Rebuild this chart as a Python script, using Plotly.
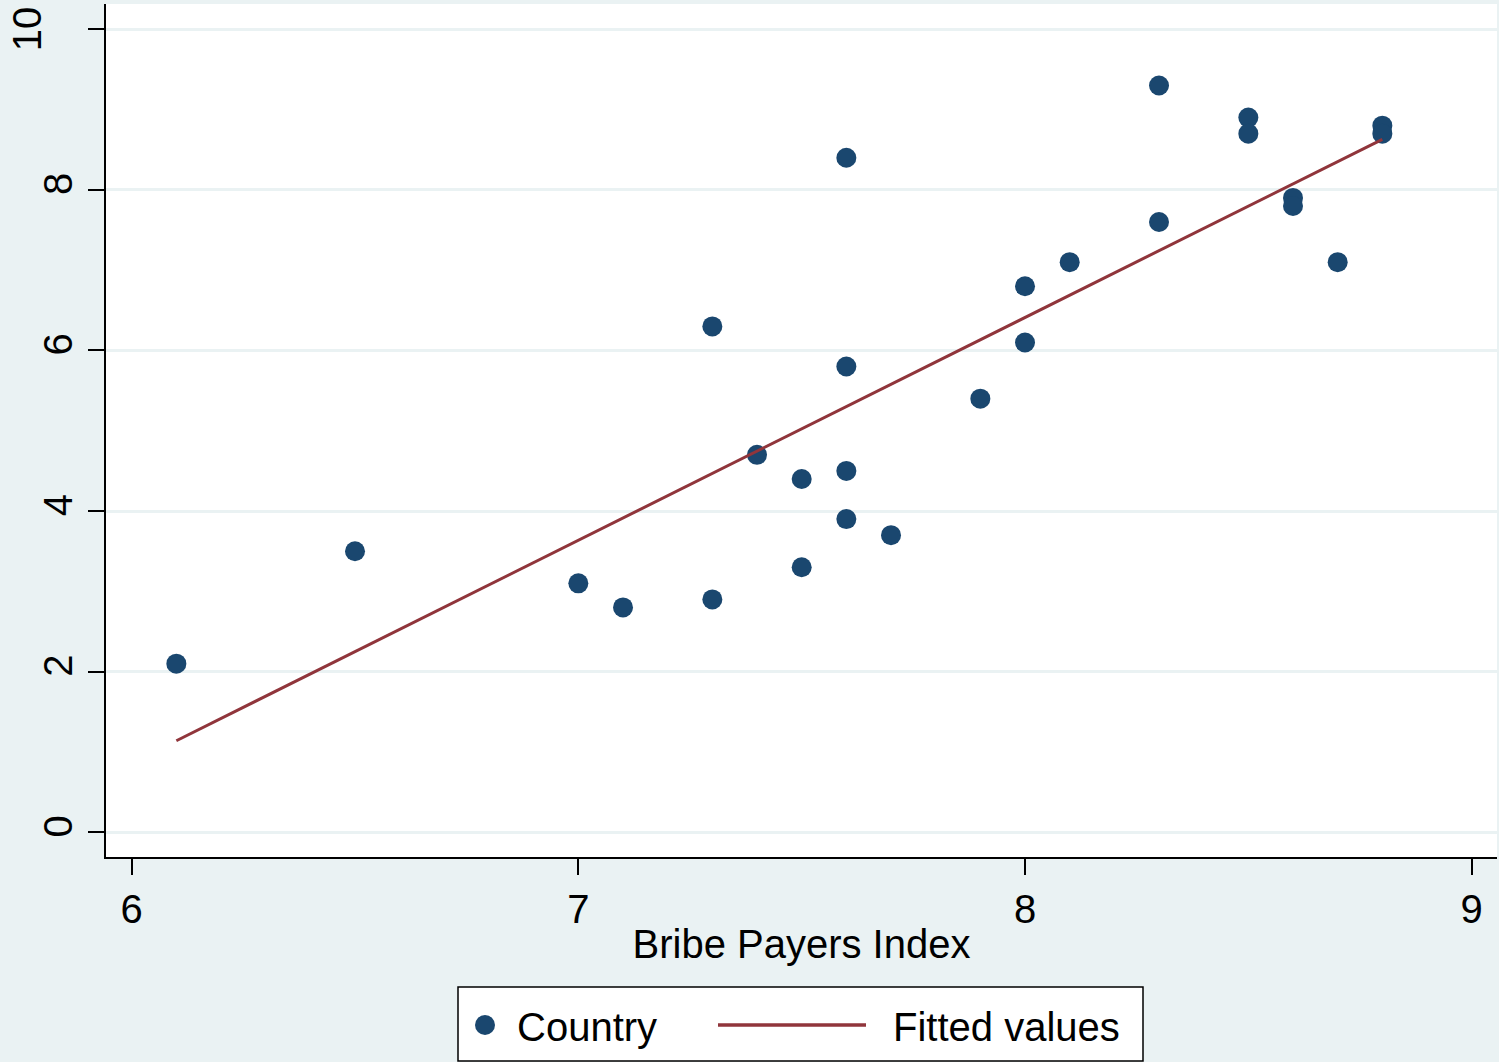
import plotly.graph_objects as go

bpi = [6.1, 6.5, 7.0, 7.1, 7.3, 7.3, 7.4, 7.5, 7.5, 7.6, 7.6, 7.6, 7.6, 7.7,
       7.9, 8.0, 8.0, 8.1, 8.3, 8.3, 8.5, 8.5, 8.6, 8.6, 8.7, 8.8, 8.8]
cpi = [2.1, 3.5, 3.1, 2.8, 2.9, 6.3, 4.7, 4.4, 3.3, 8.4, 5.8, 4.5, 3.9, 3.7,
       5.4, 6.8, 6.1, 7.1, 9.3, 7.6, 8.9, 8.7, 7.9, 7.8, 7.1, 8.8, 8.7]
fit_x = [6.1, 8.8]
fit_y = [1.14, 8.63]
x_ticks = [6, 7, 8, 9]
y_ticks = [0, 2, 4, 6, 8, 10]
legend_names = ["Country", "Fitted values"]

BG = "#EAF2F3"
NAVY = "#1A476F"
MAROON = "#90353B"
FONT = "Arial, Liberation Sans, sans-serif"

fig = go.Figure()
fig.add_trace(go.Scatter(x=bpi, y=cpi, mode="markers", name=legend_names[0],
                         marker=dict(color=NAVY, size=20)))
fig.add_trace(go.Scatter(x=fit_x, y=fit_y, mode="lines", name=legend_names[1],
                         line=dict(color=MAROON, width=3)))

# Plot area: x 106..1497 px, y 4..857 px
L, R, T, B = 106, 1497, 4, 857
W, H = R - L, B - T
def px(x):
    return (x - L) / W
def py(y):
    return (B - y) / H

# the top y label ("10") sits further left than the others in the reference
y_ticktext = [str(v) for v in y_ticks[:-1]] + [""]

shapes = [
    dict(type="rect", xref="paper", yref="paper", x0=px(458), x1=px(1143),
         y0=py(1061), y1=py(987), fillcolor="white",
         line=dict(color="black", width=1.5), layer="above"),
    dict(type="circle", xref="paper", yref="paper", xsizemode="pixel", ysizemode="pixel",
         xanchor=px(485), yanchor=py(1025), x0=-10, x1=10, y0=-10, y1=10,
         fillcolor=NAVY, line=dict(color=NAVY, width=0), layer="above"),
    dict(type="line", xref="paper", yref="paper", x0=px(718), x1=px(866),
         y0=py(1025), y1=py(1025), line=dict(color=MAROON, width=3.5), layer="above"),
]
annotations = [
    dict(text=legend_names[0], xref="paper", yref="paper", x=px(515), y=py(1027),
         xanchor="left", yanchor="middle", showarrow=False, font=dict(size=40)),
    dict(text=legend_names[1], xref="paper", yref="paper", x=px(891), y=py(1027),
         xanchor="left", yanchor="middle", showarrow=False, font=dict(size=40)),
    dict(text=str(y_ticks[-1]), xref="paper", yref="y", x=px(27), y=y_ticks[-1],
         xanchor="center", yanchor="middle", textangle=-90, showarrow=False,
         font=dict(size=40)),
]

fig.update_layout(
    width=1499, height=1062,
    margin=dict(l=L, r=1499 - R, t=T, b=1062 - B),
    paper_bgcolor=BG, plot_bgcolor="white",
    font=dict(family=FONT, size=40, color="black"),
    showlegend=False,
    shapes=shapes, annotations=annotations,
    xaxis=dict(range=[5.9425, 9.0567], tickvals=x_ticks, showgrid=False, zeroline=False,
               showline=True, linecolor="black", linewidth=1.5,
               ticks="outside", ticklen=16, tickwidth=1.5, tickcolor="black",
               title=dict(text="Bribe Payers Index", standoff=0, font=dict(size=40))),
    yaxis=dict(range=[-0.308, 10.315], tickvals=y_ticks, ticktext=y_ticktext,
               showgrid=True, gridcolor=BG,
               gridwidth=3, zeroline=False, showline=True, linecolor="black", linewidth=1.5,
               ticks="outside", ticklen=16, tickwidth=1.5, tickcolor="black",
               tickangle=-90, ticklabelstandoff=0),
)

fig.write_html("out.html", config={"displayModeBar": False},
               post_script="document.body.style.margin='0';")
